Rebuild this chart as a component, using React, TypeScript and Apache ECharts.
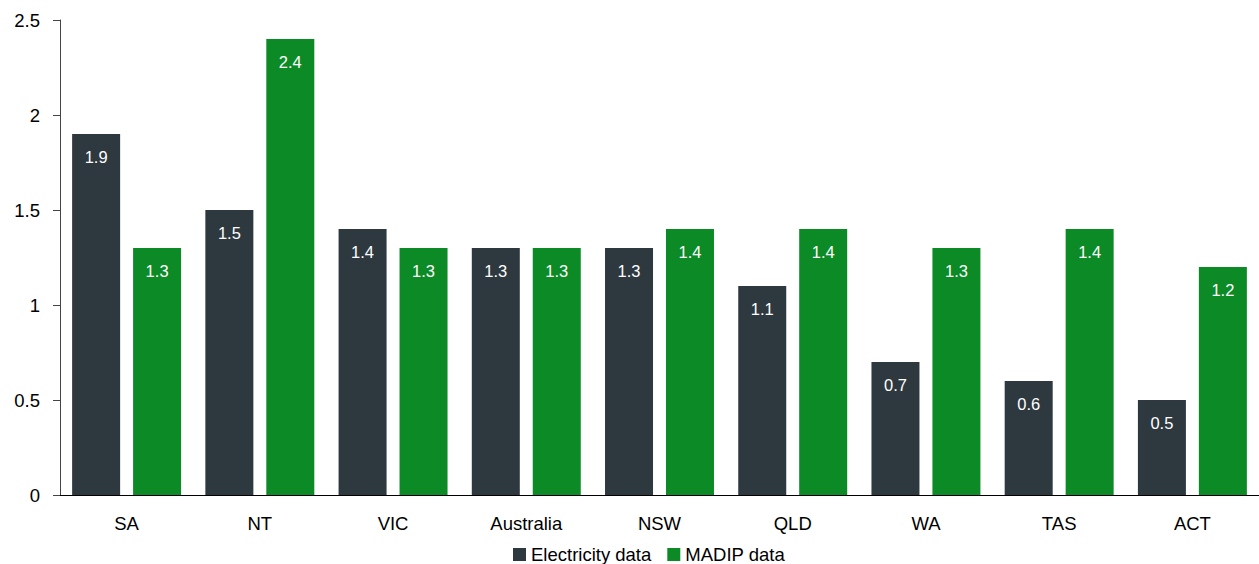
import React, { useEffect, useRef } from "react";
import * as echarts from "echarts";

const categories = ["SA", "NT", "VIC", "Australia", "NSW", "QLD", "WA", "TAS", "ACT"];
const electricityData = [1.9, 1.5, 1.4, 1.3, 1.3, 1.1, 0.7, 0.6, 0.5];
const madipData = [1.3, 2.4, 1.3, 1.3, 1.4, 1.4, 1.3, 1.4, 1.2];
const seriesNames = ["Electricity data", "MADIP data"];

const FONT = "'Liberation Sans', Arial, sans-serif";
const DARK = "#2e383f";
const GREEN = "#0b8a26";

export default function App() {
  const ref = useRef<HTMLDivElement>(null);

  useEffect(() => {
    if (!ref.current) return;
    const chart = echarts.init(ref.current, null, { renderer: "svg" });

    const label = {
      show: true,
      position: "insideTop",
      distance: 14,
      color: "#ffffff",
      fontFamily: FONT,
      fontSize: 16.5,
    };

    chart.setOption({
      animation: false,
      backgroundColor: "#ffffff",
      textStyle: { fontFamily: FONT },
      grid: { left: 60, right: 0, top: 20, bottom: 69, containLabel: false },
      legend: {
        data: seriesNames,
        left: 508,
        top: 540,
        itemWidth: 13,
        itemHeight: 13,
        itemGap: 16,
        icon: "rect",
        textStyle: { fontFamily: FONT, fontSize: 18.5, color: "#000000" },
      },
      xAxis: {
        type: "category",
        data: categories,
        axisLine: { show: true, lineStyle: { color: "#000000", width: 1 } },
        axisTick: { show: false },
        axisLabel: { color: "#000000", fontFamily: FONT, fontSize: 18.5, margin: 19 },
      },
      yAxis: {
        type: "value",
        min: 0,
        max: 2.5,
        interval: 0.5,
        splitLine: { show: false },
        axisLine: { show: true, lineStyle: { color: "#444444", width: 1 } },
        axisTick: { show: true, length: 7, lineStyle: { color: "#444444" } },
        axisLabel: { color: "#000000", fontFamily: FONT, fontSize: 18.5, margin: 20 },
      },
      series: [
        {
          name: seriesNames[0],
          type: "bar",
          data: electricityData,
          barWidth: 48,
          barGap: "27%",
          itemStyle: { color: DARK },
          label,
        },
        {
          name: seriesNames[1],
          type: "bar",
          data: madipData,
          barWidth: 48,
          itemStyle: { color: GREEN },
          label,
        },
      ],
    });

    return () => chart.dispose();
  }, []);

  return (
    <div
      ref={ref}
      style={{ position: "fixed", left: 0, top: 0, width: 1259, height: 564 }}
    />
  );
}
